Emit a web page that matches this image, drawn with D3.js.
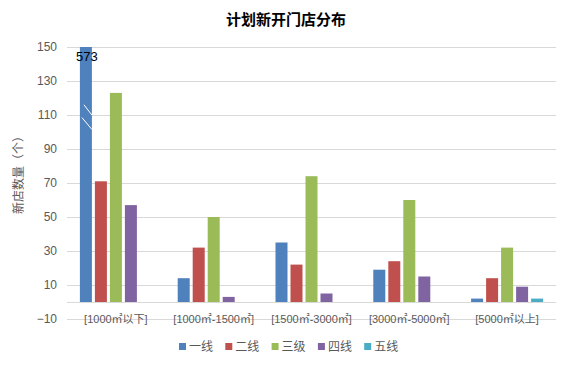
<!DOCTYPE html>
<html><head><meta charset="utf-8">
<script src="https://cdn.jsdelivr.net/npm/d3@7"></script>
<style>body{margin:0;background:#fff;}svg{display:block;font-family:"Noto Sans CJK SC","Noto Sans",sans-serif;}</style>
</head><body>
<svg id="chart" width="570" height="365"></svg>
<script>
const categories = ["[1000㎡以下]","[1000㎡-1500㎡]","[1500㎡-3000㎡]","[3000㎡-5000㎡]","[5000㎡以上]"];
const seriesNames = ["一线","二线","三级","四线","五线"];
const colors = ["#4f81bd","#c0504d","#9bbb59","#8064a2","#4bacc6"];
const yiXian = [573,14,35,19,2];
const erXian = [71,32,22,24,14];
const sanJi = [123,50,74,60,32];
const siXian = [57,3,5,15,9];
const wuXian = [0,0,0,0,2];
const yTicks = [-10,10,30,50,70,90,110,130,150];
const title = "计划新开门店分布";
const yTitle = "新店数量（个）";
const axisMax = 150;

const seriesValues = [yiXian, erXian, sanJi, siXian, wuXian];
const svg = d3.select("#chart");
const pLeft = 67, pRight = 556, pTop = 47, pBottom = 319;

const y = d3.scaleLinear().domain([-10,150]).range([pBottom, pTop]);
const x0 = d3.scaleBand().domain(categories).range([pLeft, pRight]).padding(0);
const innerW = 72;
const x1 = d3.scaleBand().domain(seriesNames)
  .range([(x0.bandwidth()-innerW)/2, (x0.bandwidth()+innerW)/2])
  .paddingInner(0.2).paddingOuter(0);

// title
svg.append("text").attr("x", 286).attr("y", 25).attr("text-anchor","middle")
  .attr("font-size", 15).attr("font-weight","bold").attr("fill","#000").text(title);

// gridlines
svg.append("g").selectAll("line").data(yTicks).join("line")
  .attr("x1", pLeft).attr("x2", pRight)
  .attr("y1", d=>Math.round(y(d))+0.5).attr("y2", d=>Math.round(y(d))+0.5)
  .attr("stroke","#d9d9d9").attr("stroke-width",1);
// zero axis line
svg.append("line").attr("x1",pLeft).attr("x2",pRight)
  .attr("y1",Math.round(y(0))+0.5).attr("y2",Math.round(y(0))+0.5)
  .attr("stroke","#d9d9d9").attr("stroke-width",1);

// y tick labels
const yAxis = d3.axisLeft(y).tickValues(yTicks).tickSize(0).tickPadding(0);
const ga = svg.append("g").attr("transform",`translate(${pLeft-10},0)`).call(yAxis);
ga.select(".domain").remove();
ga.selectAll("text").attr("font-size",12).attr("fill","#595959")
  .attr("font-family",'"Liberation Sans","Noto Sans",sans-serif');

// y title
svg.append("text").attr("transform",`translate(23,172) rotate(-90)`)
  .attr("text-anchor","middle").attr("font-size",12).attr("fill","#595959").text(yTitle);

// bars
const groups = svg.append("g").selectAll("g").data(categories).join("g")
  .attr("transform", d=>`translate(${x0(d)},0)`);
groups.selectAll("rect").data((c,ci)=>seriesNames.map((s,si)=>({s, si, v: seriesValues[si][ci], ci})))
  .join("rect")
  .attr("x", d=>x1(d.s)).attr("width", x1.bandwidth())
  .attr("y", d=>y(Math.min(d.v, axisMax)))
  .attr("height", d=>y(0)-y(Math.min(d.v, axisMax)))
  .attr("fill", d=>colors[d.si]);

// break marks and label for clipped bar
categories.forEach((c,ci)=>{
  seriesNames.forEach((s,si)=>{
    const v = seriesValues[si][ci];
    if (v > axisMax) {
      const bx = x0(c)+x1(s), bw = x1.bandwidth();
      svg.append("line").attr("x1",bx+4).attr("y1",y(116)).attr("x2",bx+bw).attr("y2",y(110))
        .attr("stroke","#fff").attr("stroke-width",1);
      svg.append("line").attr("x1",bx+2).attr("y1",y(108.5)).attr("x2",bx+bw).attr("y2",y(101.5))
        .attr("stroke","#fff").attr("stroke-width",1);
      svg.append("text").attr("x",bx+bw/2+1).attr("y",y(axisMax)+14).attr("text-anchor","middle")
        .attr("font-size",13).attr("fill","#000")
        .attr("font-family",'"Liberation Sans","Noto Sans",sans-serif').text(v);
    }
  });
});

// category labels
svg.append("g").selectAll("text").data(categories).join("text")
  .attr("x", d=>x0(d)+x0.bandwidth()/2).attr("y", pBottom+4)
  .attr("text-anchor","middle").attr("font-size",11).attr("fill","#595959")
  .attr("font-family",'"Liberation Sans","Noto Sans CJK SC",sans-serif')
  .text(d=>d);

// legend
const lg = svg.append("g").selectAll("g").data(seriesNames).join("g")
  .attr("transform",(d,i)=>`translate(${179+i*46.3},0)`);
lg.append("rect").attr("x",0).attr("y",343).attr("width",7).attr("height",7).attr("fill",(d,i)=>colors[i]);
lg.append("text").attr("x",10).attr("y",351).attr("font-size",12).attr("fill","#595959").text(d=>d);
</script>
</body></html>
